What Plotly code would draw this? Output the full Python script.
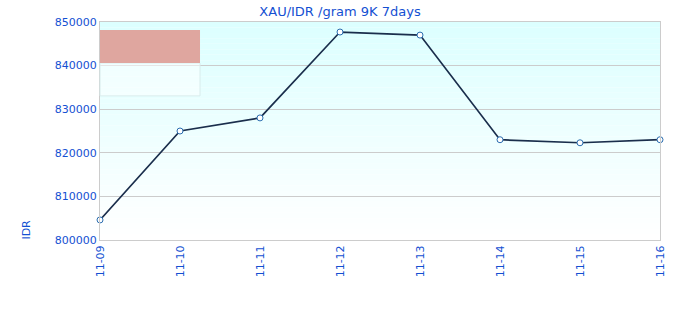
import plotly.graph_objects as go

dates = ["11-09", "11-10", "11-11", "11-12", "11-13", "11-14", "11-15", "11-16"]
prices = [804600, 825000, 828000, 847700, 847000, 823000, 822300, 823000]
y_ticks = [800000, 810000, 820000, 830000, 840000, 850000]

blue = "#1450d2"
fig = go.Figure()
fig.add_trace(go.Scatter(
    x=dates, y=prices, mode="lines+markers",
    line=dict(color="#1a2e4c", width=1.7),
    marker=dict(symbol="circle", size=6, color="white",
                line=dict(color="#2a6db0", width=1)),
    showlegend=False, cliponaxis=False,
))

shapes = []
n = 40
top = (220, 255, 255)
bot = (255, 255, 255)
for i in range(n):
    t = i / (n - 1)
    c = tuple(round(top[k] + (bot[k] - top[k]) * t) for k in range(3))
    shapes.append(dict(type="rect", xref="paper", yref="paper",
                       x0=0, x1=1, y0=1 - (i + 1) / n, y1=1 - i / n,
                       fillcolor="rgb(%d,%d,%d)" % c, line=dict(width=0), layer="below"))
# legend-like box
shapes.append(dict(type="rect", xref="paper", yref="paper", x0=0, x1=0.1786,
                   y0=0.661, y1=0.812, fillcolor="rgba(255,255,255,0.5)",
                   line=dict(color="#d8ecec", width=1), layer="above"))
shapes.append(dict(type="rect", xref="paper", yref="paper", x0=0, x1=0.1786,
                   y0=0.812, y1=0.963, fillcolor="#dfa69f",
                   line=dict(width=0), layer="above"))

fig.update_layout(
    width=680, height=320,
    margin=dict(l=100, r=20, t=22, b=80),
    paper_bgcolor="white", plot_bgcolor="rgba(0,0,0,0)",
    font=dict(family="DejaVu Sans", size=11, color=blue),
    title=dict(text="XAU/IDR /gram 9K 7days", x=0.5, xanchor="center",
               y=0.98, yanchor="top", font=dict(size=13, color=blue)),
    shapes=shapes,
    xaxis=dict(type="category", range=[0, 7], tickangle=-90, showgrid=False,
               showline=True, linecolor="#cccccc", mirror=True, ticks="",
               tickfont=dict(color=blue, size=11), fixedrange=True),
    yaxis=dict(range=[800000, 850000], tickvals=y_ticks, ticktext=[str(v) for v in y_ticks],
               showgrid=True, gridcolor="#cccccc", showline=True, linecolor="#cccccc",
               mirror=True, ticks="", zeroline=False,
               tickfont=dict(color=blue, size=11)),
    annotations=[dict(text="IDR", xref="paper", yref="paper", x=-0.131, y=0.046,
                      xanchor="center", yanchor="middle",
                      textangle=-90, showarrow=False, font=dict(color=blue, size=11))],
)
fig.write_html("out.html")
